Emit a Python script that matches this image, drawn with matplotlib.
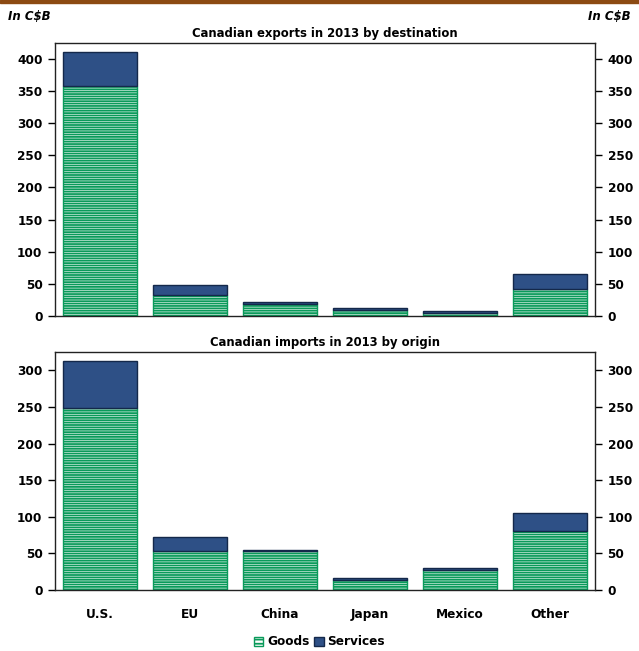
import matplotlib
matplotlib.use("Agg")
import matplotlib.pyplot as plt
from matplotlib.patches import Patch, Rectangle

plt.rcParams['font.family'] = ['DejaVu Sans']
plt.rcParams['font.weight'] = 'bold'
plt.rcParams['hatch.linewidth'] = 1.3

regions = ["U.S.", "EU", "China", "Japan", "Mexico", "Other"]

# C$ billions, 2013
exports_goods = [357, 32, 19, 10, 5, 42]
exports_services = [53, 16, 3, 3, 2, 24]
imports_goods = [248, 53, 53, 13, 27, 81]
imports_services = [65, 19, 2, 3, 3, 24]

export_ticks = [0, 50, 100, 150, 200, 250, 300, 350, 400]
import_ticks = [0, 50, 100, 150, 200, 250, 300]

GREEN = "#0a9a5a"
NAVY = "#2e5086"
NAVY_EDGE = "#14284a"

fig = plt.figure(figsize=(6.39, 6.51), dpi=100)

# brown rule along the top edge
fig.patches.append(Rectangle((0, 0.995), 1, 0.005, transform=fig.transFigure,
                             color="#8c4a12", zorder=5))

ax_exp = fig.add_axes([0.0861, 0.5146, 0.8451, 0.4198])
ax_imp = fig.add_axes([0.0861, 0.0937, 0.8451, 0.3656])


def draw_panel(ax, goods, services, ticks, ymax, title):
    x = range(len(regions))
    # hatch density is 6 lines per inch per '-'
    ax.bar(x, goods, width=0.83, color="white", edgecolor=GREEN,
           hatch="-------", linewidth=1.0, zorder=2)
    ax.bar(x, services, bottom=goods, width=0.83, color=NAVY,
           edgecolor=NAVY_EDGE, linewidth=1.0, zorder=2)
    ax.set_xlim(-0.5, len(regions) - 0.5)
    ax.set_ylim(0, ymax)
    ax.set_yticks(ticks)
    ax.tick_params(axis="y", which="both", left=True, right=True,
                   labelleft=True, labelright=True, direction="out",
                   length=5, width=1, labelsize=8.7, pad=4)
    for spine in ax.spines.values():
        spine.set_linewidth(1.0)
        spine.set_color("#222222")
    ax.set_title(title, fontsize=8.4, fontweight="bold", pad=4)


draw_panel(ax_exp, exports_goods, exports_services, export_ticks, 425,
           "Canadian exports in 2013 by destination")
draw_panel(ax_imp, imports_goods, imports_services, import_ticks, 325,
           "Canadian imports in 2013 by origin")

ax_exp.set_xticks([])
ax_imp.set_xticks(range(len(regions)))
ax_imp.set_xticklabels(regions, fontsize=8.7)
ax_imp.tick_params(axis="x", length=0, pad=13)

fig.text(0.013, 0.975, "In C$B", fontsize=8.5, fontweight="bold",
         style="italic", ha="left", va="center")
fig.text(0.987, 0.975, "In C$B", fontsize=8.5, fontweight="bold",
         style="italic", ha="right", va="center")

handles = [Patch(facecolor="white", edgecolor=GREEN, hatch="----"),
           Patch(facecolor=NAVY, edgecolor=NAVY_EDGE)]
fig.legend(handles, ["Goods", "Services"], loc="center",
           bbox_to_anchor=(0.5, 0.014), ncol=2, frameon=False, fontsize=8.7,
           handlelength=0.8, handleheight=0.8, handletextpad=0.3,
           columnspacing=0.4)

fig.savefig("out.png", dpi=100)
